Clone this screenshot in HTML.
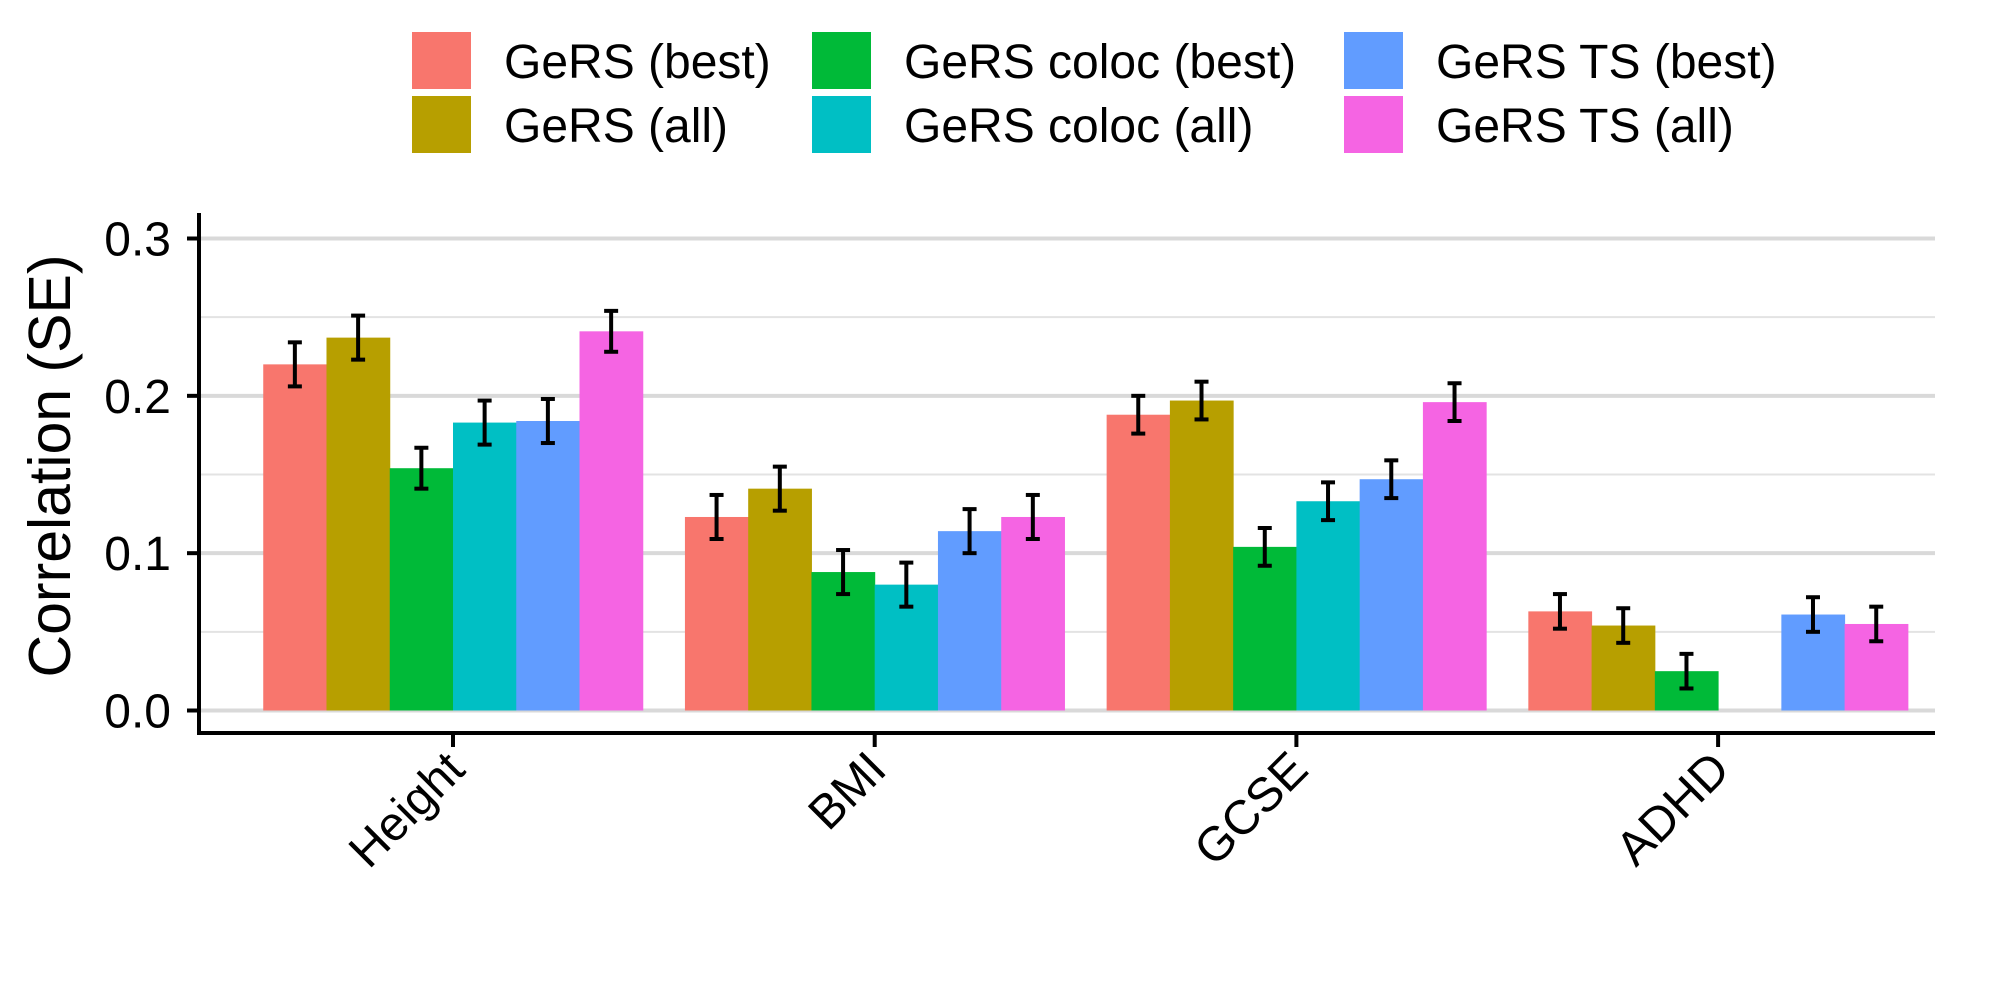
<!DOCTYPE html>
<html><head><meta charset="utf-8"><style>
html,body{margin:0;padding:0;background:#fff;}
svg{display:block;font-family:"Liberation Sans",Arial,sans-serif;}
</style></head><body>
<svg id="chart" width="2000" height="1000" viewBox="0 0 2000 1000">
<g id="grid"></g>
<g id="bars"></g>
<g id="axes"></g>
<g id="legend"></g>
<text x="0" y="0" transform="translate(70,466) rotate(-90)" text-anchor="middle" font-size="59" fill="#000">Correlation (SE)</text>
</svg>
<script>
const categories = ["Height","BMI","GCSE","ADHD"];
const seriesNames = ["GeRS (best)","GeRS (all)","GeRS coloc (best)","GeRS coloc (all)","GeRS TS (best)","GeRS TS (all)"];
const colors = ["#F8766D","#B79F00","#00BA38","#00BFC4","#619CFF","#F564E3"];
const valuesBest = [0.220,0.123,0.188,0.063];
const valuesAll = [0.237,0.141,0.197,0.054];
const valuesColocBest = [0.154,0.088,0.104,0.025];
const valuesColocAll = [0.183,0.080,0.133,null];
const valuesTSBest = [0.184,0.114,0.147,0.061];
const valuesTSAll = [0.241,0.123,0.196,0.055];
const seBest = [0.014,0.014,0.012,0.011];
const seAll = [0.014,0.014,0.012,0.011];
const seColocBest = [0.013,0.014,0.012,0.011];
const seColocAll = [0.014,0.014,0.012,null];
const seTSBest = [0.014,0.014,0.012,0.011];
const seTSAll = [0.013,0.014,0.012,0.011];
const yTicks = [0.0,0.1,0.2,0.3];
const yMinor = [0.05,0.15,0.25];
const tickLabels = ["0.0","0.1","0.2","0.3"];

const NS="http://www.w3.org/2000/svg";
const values=[valuesBest,valuesAll,valuesColocBest,valuesColocAll,valuesTSBest,valuesTSAll];
const ses=[seBest,seAll,seColocBest,seColocAll,seTSBest,seTSAll];
const plotL=199, plotR=1935, y0=710.5, y3=238.5;
function yScale(v){return y0-(v/0.3)*(y0-y3);}
const x0=453, band=421.7;
function xScale(i){return x0+i*band;}
const barW=band*0.9/6;
function mk(tag,attrs,parent){const e=document.createElementNS(NS,tag);for(const k in attrs)e.setAttribute(k,attrs[k]);parent.appendChild(e);return e;}
const grid=document.getElementById('grid'),bars=document.getElementById('bars'),axes=document.getElementById('axes'),legend=document.getElementById('legend');
yMinor.forEach(v=>{const l=mk('line',{x1:plotL,x2:plotR,y1:yScale(v),y2:yScale(v),stroke:'#e3e3e3','stroke-width':2},grid);

});
yTicks.forEach((v,i)=>{const l=mk('line',{x1:plotL,x2:plotR,y1:yScale(v),y2:yScale(v),stroke:'#d9d9d9','stroke-width':4},grid);


const t=mk('line',{x1:plotL-12,x2:plotL,y1:yScale(v),y2:yScale(v),stroke:'#000','stroke-width':4},axes);


const tx=mk('text',{x:plotL-28,y:yScale(v)+17,'text-anchor':'end','font-size':48,fill:'#000'},axes);tx.textContent=tickLabels[i];

});
categories.forEach((c,ci)=>{const cx=xScale(ci);
values.forEach((vals,si)=>{const v=vals[ci];if(v==null)return;
const bx=cx-band*0.45+si*barW;
const r=mk('rect',{x:bx,y:yScale(v),width:barW+0.5,height:y0-yScale(v),fill:colors[si]},bars);


const se=ses[si][ci];const mx=bx+barW/2;
const g=mk('g',{stroke:'#000','stroke-width':4},bars);


mk('line',{x1:mx,x2:mx,y1:yScale(v-se),y2:yScale(v+se)},g);
mk('line',{x1:mx-7,x2:mx+7,y1:yScale(v-se),y2:yScale(v-se)},g);
mk('line',{x1:mx-7,x2:mx+7,y1:yScale(v+se),y2:yScale(v+se)},g);});
const t=mk('line',{x1:cx,x2:cx,y1:733,y2:747,stroke:'#000','stroke-width':4},axes);


const tx=mk('text',{x:0,y:0,'text-anchor':'end','font-size':48,fill:'#000',transform:`translate(${cx+14},${772}) rotate(-45)`},axes);tx.textContent=c;

});
const ya=mk('line',{x1:plotL,x2:plotL,y1:213,y2:735,stroke:'#000','stroke-width':4},axes);


const xa=mk('line',{x1:plotL-2,x2:plotR,y1:733,y2:733,stroke:'#000','stroke-width':4},axes);


const colX=[412,812,1344];
seriesNames.forEach((n,i)=>{const col=Math.floor(i/2),row=i%2;
const g=mk('g',{},legend);


mk('rect',{x:colX[col],y:32+row*64,width:59,height:57,fill:colors[i]},g);
const t=mk('text',{x:colX[col]+92,y:78+row*64,'font-size':48,fill:'#000'},g);t.textContent=n;});
</script>
</body></html>
